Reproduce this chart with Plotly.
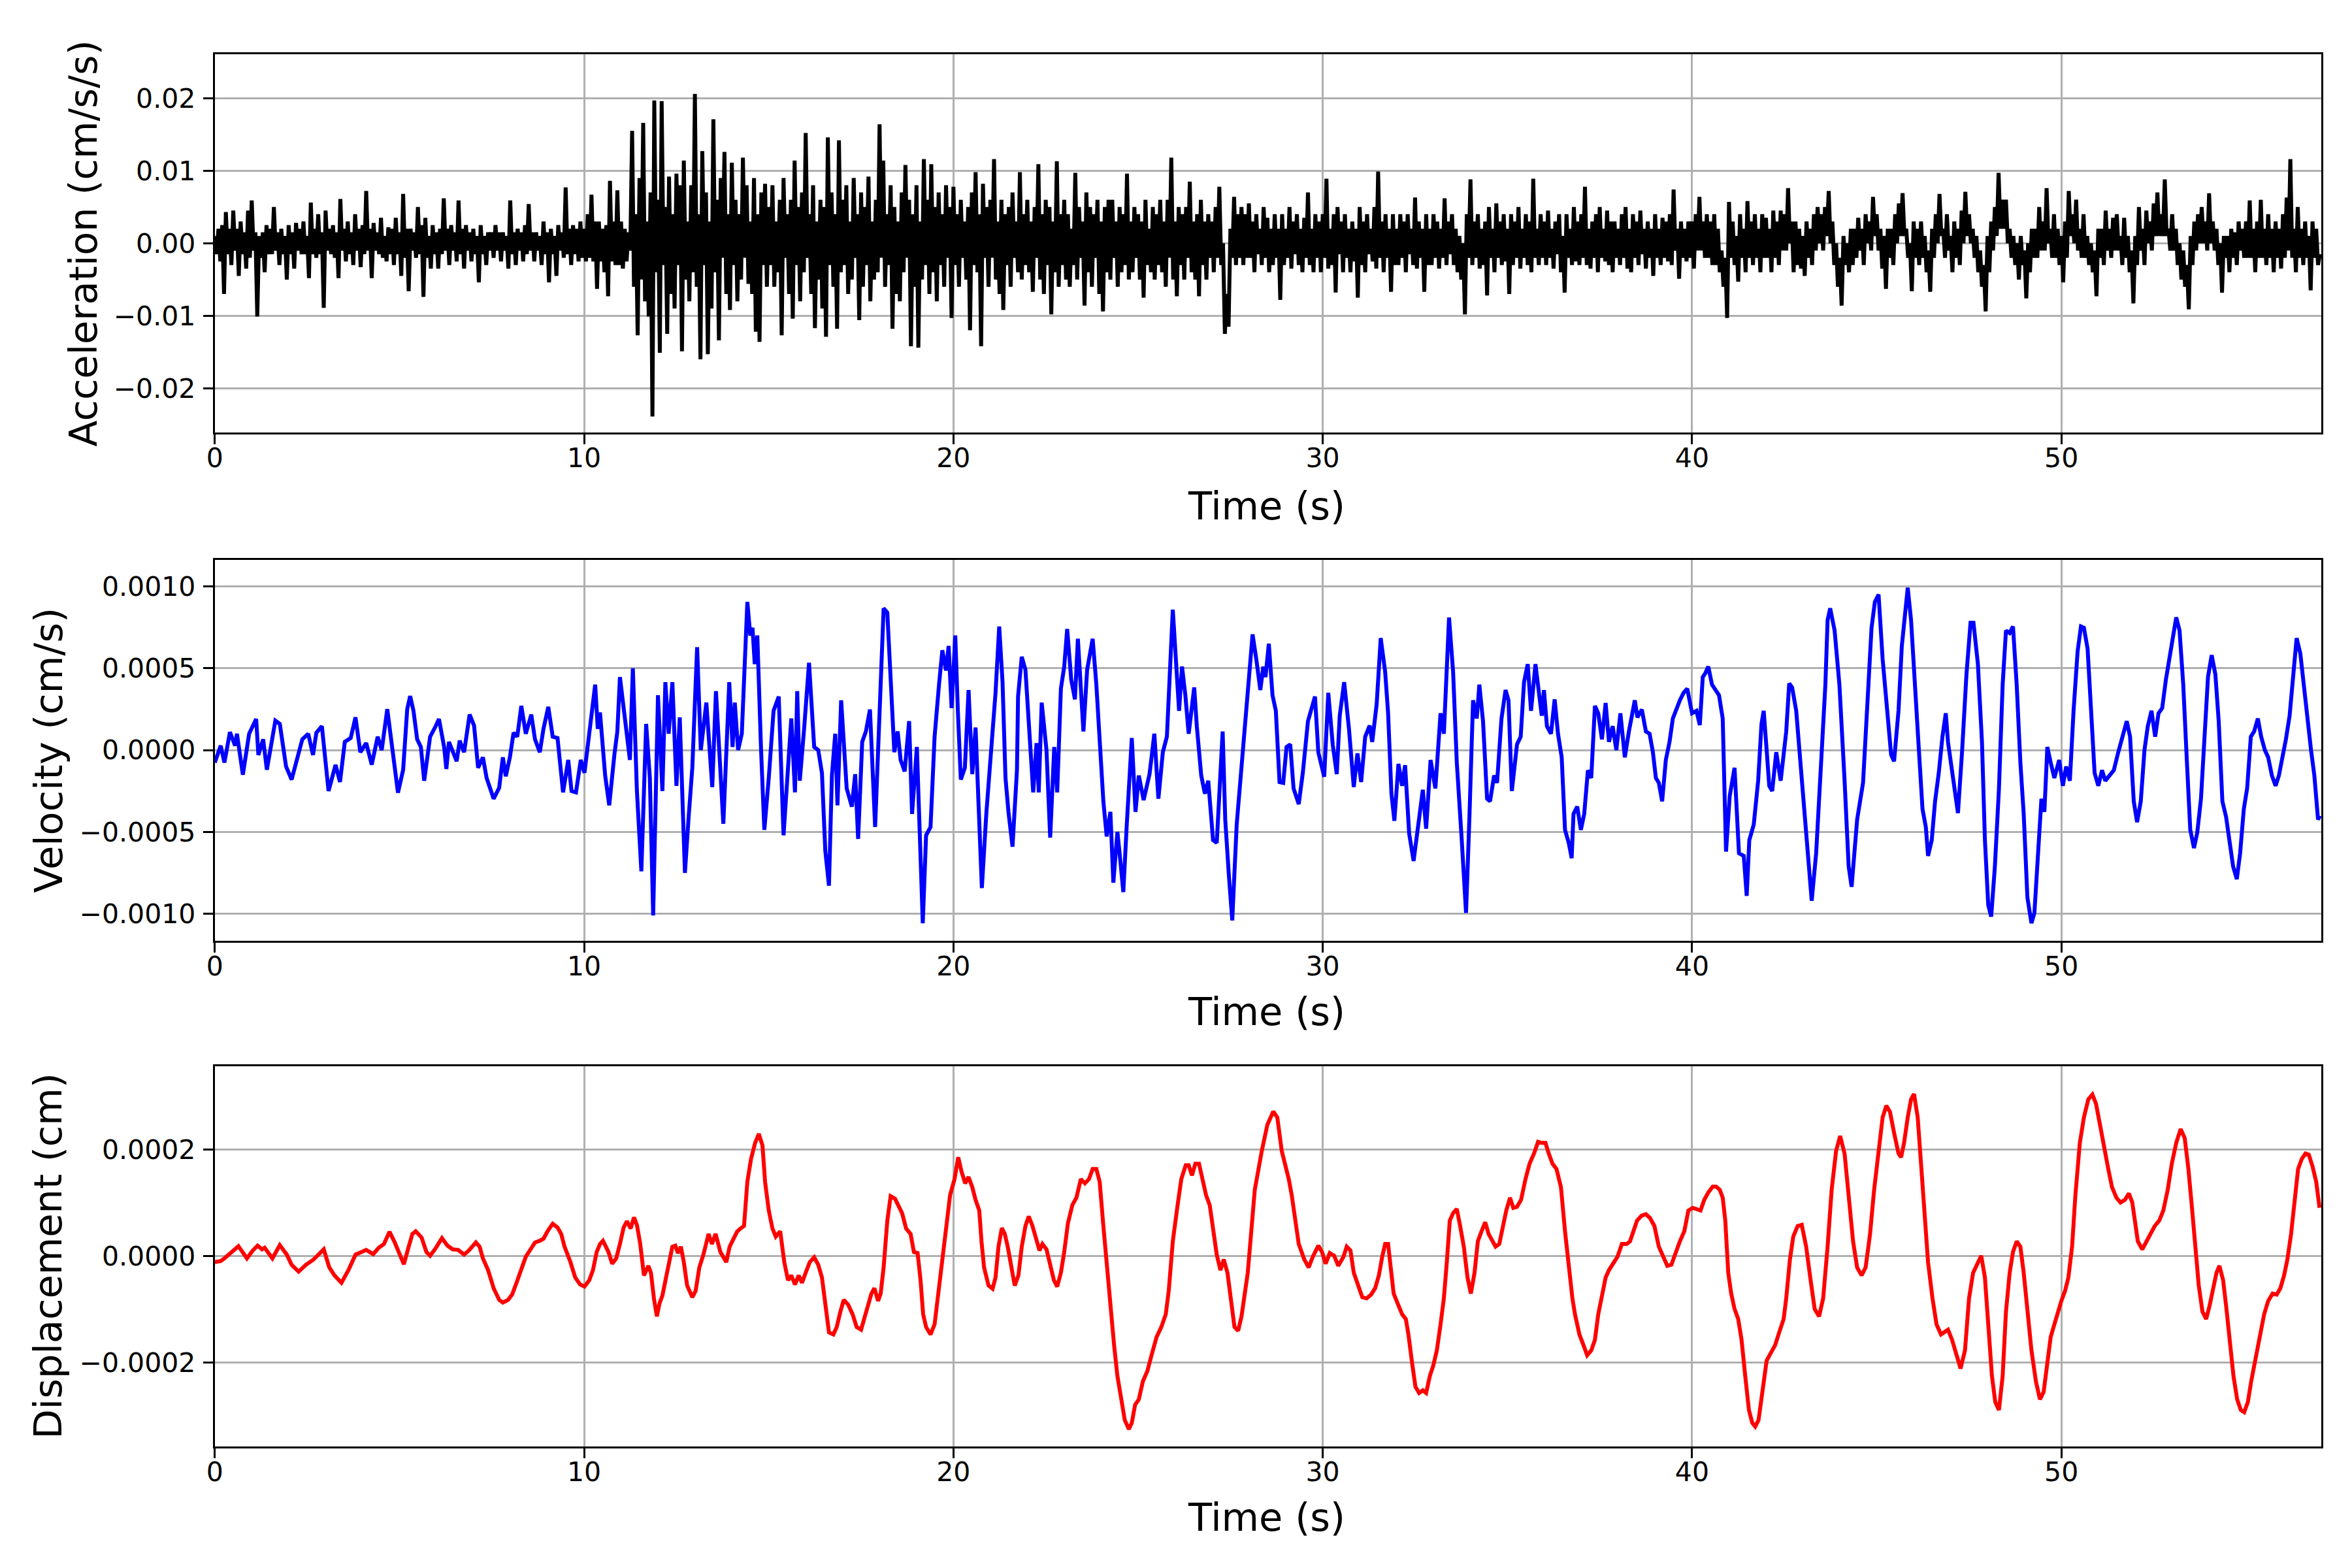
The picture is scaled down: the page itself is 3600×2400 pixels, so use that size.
import numpy as np
import plotly.graph_objects as go

# acceleration, one swing up and one swing down per 0.1 s window,
# read off the trace (units of 1e-3 cm/s/s), sample step 0.05 s
acc_dt = 0.05
acc_milli = [
    1.0, -1.5, 2.0, -2.5, 2.5, -7.0, 4.3, -1.5, 2.0, -3.0, 4.5, -1.0, 2.0, -4.5, 3.0, -1.5, 1.5, -3.5, 4.5, -2.0,
    5.9, -1.0, 1.5, -10.1, 1.0, -2.0, 1.5, -4.0, 2.5, -1.5, 2.0, -1.5, 5.0, -1.0, 1.5, -3.0, 2.0, -1.5, 1.0, -5.0,
    2.5, -1.5, 1.5, -3.5, 2.8, -1.0, 2.0, -1.5, 3.0, -1.5, 1.0, -4.8, 5.6, -1.5, 2.0, -2.0, 4.0, -1.5, 1.5, -8.9,
    4.5, -1.0, 2.0, -1.5, 2.5, -2.0, 1.5, -4.8, 6.1, -1.0, 2.0, -2.5, 3.0, -1.5, 1.5, -3.0, 4.0, -1.0, 2.0, -3.3,
    2.5, -1.5, 7.2, -1.0, 2.0, -4.8, 2.8, -1.0, 1.5, -1.5, 3.5, -2.0, 1.0, -2.5, 2.2, -1.5, 2.0, -3.0, 3.5, -1.5,
    1.5, -4.5, 6.8, -2.0, 2.0, -6.6, 2.0, -1.0, 1.5, -2.0, 5.0, -1.5, 2.5, -7.4, 3.5, -2.0, 1.0, -3.5, 2.5, -1.5,
    1.5, -3.5, 2.0, -1.5, 6.2, -1.0, 2.0, -3.0, 2.5, -1.0, 1.5, -2.5, 5.9, -1.5, 2.0, -3.5, 2.5, -1.0, 1.5, -2.5,
    2.0, -1.5, 1.0, -5.4, 2.5, -1.5, 1.0, -3.0, 1.5, -1.0, 1.5, -2.0, 2.5, -1.0, 1.5, -2.5, 1.5, -1.0, 1.0, -3.5,
    5.9, -1.5, 1.5, -3.0, 2.0, -1.0, 1.5, -2.5, 2.5, -1.5, 5.4, -1.0, 1.5, -2.5, 1.5, -1.0, 1.0, -3.0, 3.0, -1.5,
    1.5, -5.4, 2.0, -1.5, 1.0, -4.5, 2.5, -1.0, 1.5, -2.0, 7.7, -1.5, 2.0, -3.0, 2.5, -1.5, 2.0, -2.5, 3.0, -2.0,
    2.0, -2.5, 4.0, -2.0, 6.7, -2.5, 3.0, -6.3, 3.0, -2.5, 2.0, -4.0, 2.5, -7.3, 8.6, -2.5, 3.0, -3.0, 7.3, -3.0,
    3.0, -3.5, 2.0, -2.5, 1.5, -1.0, 15.5, -6.0, 4.0, -12.7, 9.0, -5.0, 16.6, -8.0, 3.0, -10.1, 7.0, -23.9, 19.7, -4.0,
    6.0, -15.1, 19.6, -3.0, 5.0, -12.5, 9.2, -7.0, 4.0, -9.0, 9.6, -3.0, 8.0, -14.9, 11.4, -5.0, 3.0, -8.0, 8.0, -4.0,
    20.6, -6.0, 4.0, -16.0, 12.7, -3.0, 7.0, -15.3, 3.0, -9.0, 17.1, -4.0, 6.0, -13.4, 9.0, -2.0, 12.6, -7.0, 4.0, -9.2,
    11.1, -3.0, 6.0, -8.0, 4.0, -5.0, 11.8, -2.0, 8.0, -5.6, 3.0, -7.0, 9.0, -12.2, 4.0, -13.6, 7.0, -3.0, 8.2, -6.0,
    5.0, -3.0, 8.0, -6.0, 3.0, -4.0, 6.0, -12.7, 9.0, -2.0, 4.0, -7.0, 6.0, -10.4, 11.4, -3.0, 5.0, -8.0, 7.0, -4.0,
    15.2, -2.0, 4.0, -7.0, 8.0, -11.7, 3.0, -5.0, 6.0, -9.0, 5.0, -12.9, 14.6, -3.0, 7.0, -6.0, 4.0, -11.8, 14.2, -4.0,
    6.0, -3.0, 8.0, -7.0, 3.0, -5.0, 9.0, -2.0, 4.0, -10.6, 7.0, -6.0, 5.0, -3.0, 9.2, -8.0, 3.0, -5.0, 6.0, -4.0,
    16.4, -2.0, 11.4, -6.0, 4.0, -3.0, 8.0, -11.8, 5.0, -7.0, 3.0, -8.0, 7.0, -4.0, 10.8, -2.0, 6.0, -14.2, 4.0, -6.0,
    8.0, -14.4, 3.0, -5.0, 11.6, -3.0, 6.0, -7.0, 10.9, -4.0, 5.0, -8.0, 7.0, -3.0, 4.0, -6.0, 8.0, -2.0, 5.0, -10.3,
    7.8, -3.0, 4.0, -6.0, 6.0, -2.0, 3.0, -5.0, 5.0, -12.0, 7.0, -3.0, 9.8, -4.0, 4.0, -14.2, 8.2, -2.0, 5.0, -6.0,
    6.0, -2.0, 11.6, -5.0, 3.0, -7.0, 6.0, -9.2, 4.0, -3.0, 5.0, -6.0, 7.0, -2.0, 3.0, -4.0, 9.8, -5.0, 4.0, -3.0,
    6.0, -4.0, 3.0, -6.7, 5.0, -2.0, 10.9, -5.0, 4.0, -7.0, 6.0, -3.0, 5.0, -9.8, 3.0, -4.0, 11.3, -6.0, 4.0, -3.0,
    6.0, -5.0, 4.0, -6.0, 2.0, -3.0, 9.7, -5.0, 5.0, -2.0, 3.0, -8.6, 7.0, -4.0, 5.0, -6.0, 4.0, -2.0, 6.0, -7.0,
    3.0, -9.4, 5.0, -4.0, 6.0, -5.0, 6.0, -2.0, 3.0, -6.0, 5.0, -4.0, 4.0, -3.0, 9.6, -5.0, 3.0, -4.0, 5.0, -2.0,
    4.0, -5.0, 3.0, -7.5, 6.0, -3.0, 2.0, -4.0, 5.0, -5.0, 4.0, -3.0, 6.0, -4.0, 3.0, -6.0, 6.0, -2.0, 11.8, -5.0,
    3.0, -7.3, 5.0, -3.0, 4.0, -5.0, 5.0, -2.0, 8.5, -4.0, 3.0, -5.0, 4.0, -7.3, 6.0, -3.0, 3.0, -5.0, 4.0, -2.0,
    3.0, -4.0, 5.0, -2.0, 7.8, -3.0, 0.0, -12.5, -7.0, -11.5, 2.0, -2.0, 6.4, -3.0, 4.0, -2.0, 5.0, -3.0, 4.0, -2.0,
    5.5, -2.0, 3.0, -4.0, 4.0, -1.5, 2.0, -3.0, 5.0, -2.0, 3.5, -4.0, 2.0, -3.0, 4.0, -2.0, 2.0, -7.8, 4.0, -3.0,
    2.0, -2.0, 5.0, -3.5, 3.0, -1.5, 4.0, -3.0, 2.0, -4.0, 3.5, -2.0, 7.0, -3.0, 2.0, -4.0, 4.0, -2.0, 3.0, -4.0,
    4.0, -2.0, 8.9, -3.5, 2.0, -3.0, 4.0, -6.8, 5.0, -1.5, 3.0, -4.0, 4.0, -2.0, 2.0, -4.0, 3.0, -2.5, 2.0, -7.5,
    5.0, -3.0, 3.0, -4.0, 4.0, -1.5, 2.0, -2.5, 5.0, -3.5, 9.9, -2.0, 3.0, -4.0, 4.0, -2.0, 2.0, -6.7, 4.0, -3.0,
    2.0, -3.0, 4.0, -2.0, 3.0, -4.0, 4.0, -1.5, 2.0, -3.0, 6.3, -3.5, 3.0, -2.0, 2.0, -6.7, 4.0, -3.0, 2.0, -3.0,
    4.0, -2.0, 3.0, -3.5, 2.0, -2.0, 6.2, -3.0, 3.0, -1.5, 4.0, -3.0, 2.0, -4.0, 1.0, -5.0, 0.0, -9.8, 4.0, -2.0,
    8.8, -3.0, 3.0, -2.0, 4.0, -3.5, 2.0, -3.0, 3.0, -7.2, 5.0, -2.0, 2.0, -4.0, 5.5, -2.0, 3.0, -3.0, 4.0, -2.5,
    2.0, -7.0, 4.0, -3.0, 3.0, -2.0, 5.0, -3.5, 2.0, -2.0, 4.0, -3.0, 3.0, -4.0, 8.9, -2.0, 2.0, -3.0, 4.0, -2.0,
    3.0, -3.0, 4.5, -2.0, 2.0, -3.5, 3.0, -1.5, 4.0, -4.0, 1.0, -6.8, 4.0, -2.0, 2.0, -3.0, 5.0, -2.5, 3.0, -3.0,
    4.0, -2.0, 7.8, -3.0, 2.0, -3.5, 3.0, -2.0, 4.0, -4.0, 5.0, -2.0, 2.0, -2.5, 4.5, -3.0, 3.0, -4.0, 3.0, -2.0,
    2.0, -3.0, 4.0, -2.0, 5.0, -3.5, 2.0, -4.0, 4.0, -2.0, 3.0, -3.0, 4.5, -1.5, 2.0, -3.5, 3.0, -2.0, 2.0, -4.5,
    4.0, -2.0, 2.0, -3.0, 3.5, -2.0, 3.0, -2.5, 4.0, -3.0, 7.4, -1.0, 2.0, -4.9, 3.0, -2.0, 2.0, -2.5, 3.0, -2.0,
    3.0, -3.5, 4.0, -1.0, 6.4, -1.0, 3.0, -2.0, 4.0, -2.0, 3.0, -3.0, 4.0, -3.0, 2.0, -4.0, -1.0, -6.0, -2.0, -10.3,
    5.7, -2.0, 3.0, -3.0, 1.0, -5.3, 4.0, -2.0, 2.0, -4.0, 5.8, -2.0, 3.0, -3.0, 4.0, -2.0, 2.0, -4.0, 4.0, -2.0,
    3.5, -2.0, 2.0, -4.0, 4.5, -2.0, 3.0, -3.0, 4.5, -1.0, 4.0, -1.0, 7.6, 0.0, 3.0, -4.0, 3.0, -3.0, 2.0, -3.5,
    1.0, -4.5, 3.0, -2.0, 2.0, -3.0, 4.0, -1.0, 5.0, 0.0, 4.0, -1.0, 5.0, 1.0, 7.2, 0.0, 3.0, -3.0, 0.0, -6.0,
    -2.0, -8.6, 1.0, -3.0, 0.0, -4.0, 2.0, -3.0, 2.0, -2.0, 3.5, -1.0, 2.0, -3.0, 4.0, 0.0, 3.0, -1.0, 6.4, 1.0,
    4.0, -1.0, 2.0, -3.5, 1.0, -6.3, 2.0, -2.0, 2.0, -3.0, 4.0, 0.0, 5.5, 1.0, 6.9, 1.0, 2.0, -2.0, 0.0, -6.6,
    3.0, -2.0, 2.0, -3.0, 3.0, -2.0, 1.0, -4.0, -1.0, -6.7, 2.0, -2.0, 4.0, 0.0, 6.8, 1.0, 2.0, -2.0, 4.0, -1.0,
    1.0, -4.0, 3.0, -2.0, 2.0, -3.0, 4.5, 0.0, 7.1, 1.0, 4.0, 0.0, 2.0, -2.0, 1.0, -4.0, -1.0, -6.0, -3.0, -9.4,
    1.0, -4.0, 3.0, -1.0, 5.0, 1.0, 9.7, 2.0, 6.0, 2.0, 6.0, 0.0, 2.0, -2.0, 1.0, -3.0, 0.0, -5.0, 1.0, -3.0,
    -1.0, -7.6, 0.0, -4.0, 2.0, -2.0, 2.0, -2.0, 5.0, -1.0, 3.0, -1.0, 7.6, 0.0, 2.0, -2.0, 4.0, -2.0, 2.0, -3.0,
    1.0, -5.4, 3.0, -2.0, 7.2, 1.0, 4.0, 0.0, 6.0, -1.0, 2.0, -2.0, 4.0, -2.0, 1.0, -3.0, 0.0, -4.0, -1.0, -7.3,
    2.0, -2.0, 2.0, -3.0, 4.5, -1.0, 2.0, -2.0, 3.5, -1.0, 4.0, -1.0, 1.0, -3.0, 3.5, -2.0, 1.0, -4.0, -1.0, -8.3,
    1.0, -3.0, 5.0, -1.0, 2.0, -3.0, 4.5, 0.0, 3.0, -1.0, 5.5, 1.0, 7.0, 1.0, 4.0, 1.0, 8.8, 1.0, 2.0, -1.0,
    4.0, -1.0, 2.0, -3.0, 0.0, -5.0, -1.0, -6.0, -3.0, -9.1, 1.0, -3.0, 3.0, -1.0, 4.0, 0.0, 5.0, 0.0, 3.0, -1.0,
    6.9, 0.0, 3.0, -1.0, 2.0, -3.0, 0.0, -6.8, 1.0, -2.0, 1.0, -4.0, 2.0, -2.0, 1.5, -3.0, 3.0, -1.0, 2.0, -2.0,
    3.0, -2.0, 5.9, -2.0, 2.0, -4.0, 3.0, -2.0, 6.0, -2.0, 2.0, -3.0, 4.0, -2.0, 2.0, -4.0, 3.0, -2.0, 2.0, -3.5,
    4.0, -2.0, 6.3, -1.0, 11.6, -2.0, 2.0, -4.0, 5.0, -2.0, 2.0, -3.0, 3.0, -2.0, 1.0, -6.5, 3.0, -2.0, 2.0, -3.0,
    -1.5,
]

# velocity turning points (s, units of 1e-4 cm/s)
vel_points = [
    (0.0, -0.76), (0.16, 0.27), (0.26, -0.76), (0.41, 1.1), (0.55, 0.27), (0.6, 1.0),
    (0.76, -1.5), (0.93, 1.0), (1.12, 1.9), (1.18, -0.3), (1.31, 0.66), (1.41, -1.2),
    (1.64, 1.8), (1.76, 1.6), (1.93, -1.0), (2.08, -1.8), (2.37, 0.66), (2.53, 1.0),
    (2.66, -0.3), (2.75, 1.06), (2.9, 1.46), (3.08, -2.5), (3.27, -0.9), (3.39, -1.95),
    (3.52, 0.5), (3.68, 0.74), (3.81, 2.0), (3.94, -0.13), (4.1, 0.43), (4.25, -0.89),
    (4.41, 0.82), (4.52, 0.0), (4.67, 2.5), (4.79, 0.5), (4.96, -2.6), (5.1, -1.2),
    (5.21, 2.5), (5.29, 3.3), (5.38, 2.4), (5.48, 0.66), (5.58, 0.19), (5.67, -1.87),
    (5.83, 0.82), (5.98, 1.46), (6.07, 1.9), (6.21, 0.19), (6.27, -1.15), (6.34, 0.5),
    (6.46, -0.13), (6.55, -0.68), (6.63, 0.58), (6.75, -0.13), (6.9, 2.17), (7.02, 1.5),
    (7.13, -1.08), (7.26, -0.44), (7.36, -1.7), (7.55, -2.97), (7.7, -2.3), (7.8, -0.44),
    (7.88, -1.6), (7.99, -0.44), (8.09, 1.06), (8.19, 0.82), (8.3, 2.7), (8.42, 1.0),
    (8.57, 2.17), (8.67, 0.66), (8.8, -0.13), (8.9, 1.3), (9.03, 2.64), (9.15, 0.82),
    (9.28, 0.74), (9.43, -2.58), (9.57, -0.6), (9.66, -2.5), (9.78, -2.58), (9.91, -0.6),
    (10.01, -1.39), (10.14, 1.2), (10.3, 4.0), (10.37, 1.3), (10.43, 2.3), (10.57, -1.55),
    (10.68, -3.37), (10.82, -0.28), (10.9, 1.14), (10.97, 4.46), (11.09, 2.4), (11.24, -0.6),
    (11.32, 5.0), (11.43, -2.5), (11.55, -7.4), (11.68, 1.6), (11.78, -1.7), (11.87, -10.1),
    (12.0, 3.35), (12.12, -2.5), (12.2, 4.15), (12.29, 1.0), (12.39, 4.15), (12.5, -2.18),
    (12.59, 2.0), (12.73, -7.5), (12.83, -4.1), (12.93, -1.08), (13.06, 6.28), (13.16, 0.0),
    (13.31, 2.9), (13.47, -2.26), (13.57, 3.6), (13.66, -0.5), (13.77, -4.5), (13.93, 4.15),
    (14.02, 0.19), (14.08, 2.9), (14.17, 0.0), (14.27, 1.0), (14.42, 9.05), (14.5, 7.0),
    (14.56, 7.47), (14.62, 5.25), (14.69, 7.0), (14.79, 0.1), (14.88, -4.87), (15.0, -1.7),
    (15.13, 2.4), (15.27, 3.27), (15.4, -5.2), (15.61, 1.93), (15.71, -2.58), (15.77, 3.6),
    (15.84, -1.87), (15.96, 1.38), (16.09, 5.33), (16.23, 0.19), (16.34, 0.0), (16.44, -1.4),
    (16.53, -6.14), (16.63, -8.28), (16.71, -1.55), (16.8, 1.0), (16.86, -3.37), (16.96, 3.04),
    (17.11, -2.34), (17.25, -3.45), (17.34, -1.47), (17.42, -5.43), (17.53, 0.5), (17.63, 1.14),
    (17.74, 2.48), (17.88, -4.7), (18.02, 2.7), (18.11, 8.66), (18.21, 8.4), (18.3, 4.0),
    (18.4, -0.13), (18.49, 1.14), (18.57, -0.6), (18.68, -1.3), (18.8, 1.77), (18.88, -3.9),
    (19.01, 0.19), (19.17, -10.57), (19.26, -5.2), (19.38, -4.7), (19.49, 0.82), (19.61, 4.0),
    (19.7, 6.1), (19.8, 4.86), (19.87, 6.36), (19.95, 2.56), (20.05, 7.0), (20.12, 2.4),
    (20.2, -1.8), (20.31, -1.08), (20.41, 3.67), (20.51, -1.47), (20.6, 1.38), (20.68, -3.29),
    (20.77, -8.43), (20.89, -3.9), (20.99, -1.08), (21.14, 3.5), (21.24, 7.55), (21.33, 4.15),
    (21.41, -1.7), (21.49, -3.77), (21.6, -5.9), (21.72, -1.23), (21.75, 3.27), (21.85, 5.7),
    (21.95, 4.9), (22.06, 0.82), (22.16, -2.58), (22.25, 0.43), (22.31, -2.58), (22.39, 2.9),
    (22.52, 0.0), (22.62, -5.35), (22.73, 0.19), (22.81, -2.58), (22.91, 3.75), (23.0, 5.1),
    (23.08, 7.4), (23.19, 4.3), (23.29, 3.1), (23.37, 6.8), (23.44, 4.0), (23.52, 1.14),
    (23.62, 4.9), (23.77, 6.8), (23.87, 4.0), (23.96, 0.82), (24.06, -3.13), (24.15, -5.27),
    (24.25, -3.77), (24.33, -8.1), (24.44, -5.0), (24.5, -6.3), (24.6, -8.67), (24.69, -4.7),
    (24.83, 0.74), (24.93, -3.77), (25.02, -1.55), (25.15, -3.05), (25.31, -1.47), (25.44, 1.0),
    (25.55, -2.97), (25.67, -0.13), (25.78, 0.82), (25.94, 8.58), (26.03, 5.25), (26.11, 2.4),
    (26.19, 5.1), (26.28, 3.35), (26.37, 1.0), (26.52, 3.83), (26.59, 1.46), (26.71, -1.55),
    (26.81, -2.66), (26.9, -1.87), (27.03, -5.5), (27.13, -5.66), (27.29, 1.14), (27.36, -4.24),
    (27.46, -7.7), (27.55, -10.4), (27.67, -4.55), (27.87, 1.0), (27.97, 3.67), (28.1, 7.07),
    (28.2, 5.57), (28.31, 3.67), (28.39, 5.1), (28.45, 4.46), (28.54, 6.5), (28.64, 3.35),
    (28.73, 2.4), (28.83, -1.95), (28.93, -2.0), (29.02, 0.19), (29.12, 0.35), (29.21, -2.34),
    (29.35, -3.3), (29.46, -1.4), (29.6, 1.77), (29.79, 3.27), (29.88, -0.13), (30.04, -1.63),
    (30.15, 3.5), (30.27, 0.35), (30.38, -1.47), (30.46, 2.1), (30.58, 4.15), (30.71, 1.3),
    (30.84, -2.26), (30.94, -0.2), (31.04, -1.95), (31.15, 0.82), (31.27, 1.5), (31.34, 0.5),
    (31.46, 2.8), (31.57, 6.84), (31.69, 4.78), (31.77, 2.25), (31.86, -2.66), (31.94, -4.32),
    (32.05, -0.84), (32.15, -2.18), (32.23, -0.92), (32.34, -5.1), (32.46, -6.77), (32.57, -4.87),
    (32.71, -2.42), (32.8, -4.8), (32.92, -0.6), (33.05, -2.34), (33.19, 2.25), (33.28, 1.0),
    (33.42, 8.1), (33.53, 4.78), (33.63, -0.76), (33.76, -5.35), (33.88, -9.94), (33.97, -4.24),
    (34.07, 3.04), (34.17, 1.93), (34.24, 4.0), (34.34, 1.77), (34.45, -2.97), (34.53, -3.13),
    (34.64, -1.55), (34.72, -2.0), (34.84, 1.93), (34.95, 3.67), (35.03, 3.04), (35.12, -2.5),
    (35.26, 0.35), (35.36, 0.82), (35.45, 4.15), (35.55, 5.25), (35.64, 2.4), (35.76, 5.25),
    (35.84, 3.67), (35.93, 2.1), (35.99, 3.67), (36.07, 1.46), (36.18, 1.0), (36.28, 3.1),
    (36.37, 1.0), (36.47, -0.44), (36.56, -4.87), (36.66, -5.66), (36.74, -6.6), (36.79, -3.9),
    (36.89, -3.45), (36.99, -4.87), (37.08, -3.9), (37.18, -1.23), (37.27, -1.7), (37.37, 2.7),
    (37.46, 2.25), (37.56, 0.66), (37.66, 2.88), (37.75, 0.5), (37.85, 1.46), (37.95, 0.0),
    (38.06, 2.25), (38.18, -0.44), (38.29, 1.14), (38.45, 3.04), (38.52, 2.0), (38.64, 2.48),
    (38.75, 1.14), (38.85, 1.0), (38.94, -0.13), (39.02, -1.7), (39.1, -2.0), (39.19, -3.13),
    (39.29, -0.6), (39.39, 0.5), (39.48, 1.93), (39.58, 2.56), (39.67, 3.04), (39.77, 3.5),
    (39.87, 3.75), (40.0, 2.25), (40.12, 2.4), (40.21, 1.53), (40.29, 4.46), (40.36, 4.7),
    (40.44, 5.1), (40.54, 4.0), (40.63, 3.67), (40.73, 3.35), (40.83, 1.93), (40.92, -6.2),
    (41.02, -2.8), (41.15, -1.08), (41.27, -6.3), (41.4, -6.46), (41.48, -8.9), (41.55, -5.5),
    (41.67, -4.55), (41.79, -1.87), (41.88, 1.6), (41.94, 2.4), (42.02, 0.0), (42.09, -2.18),
    (42.17, -2.5), (42.28, -0.13), (42.4, -1.87), (42.48, -0.44), (42.55, 1.14), (42.63, 4.07),
    (42.71, 3.83), (42.82, 2.4), (42.92, -0.28), (43.03, -3.9), (43.13, -6.3), (43.24, -9.2),
    (43.36, -6.3), (43.47, -1.4), (43.61, 4.0), (43.67, 7.94), (43.74, 8.66), (43.86, 7.3),
    (43.99, 4.0), (44.13, -1.87), (44.24, -7.1), (44.32, -8.35), (44.47, -4.24), (44.63, -2.0),
    (44.74, 2.4), (44.86, 7.47), (44.95, 9.05), (45.05, 9.5), (45.16, 5.57), (45.3, 2.1),
    (45.39, -0.28), (45.47, -0.68), (45.59, 2.4), (45.68, 6.36), (45.76, 8.26), (45.84, 9.92),
    (45.93, 7.94), (46.01, 4.62), (46.12, 0.82), (46.24, -3.6), (46.33, -4.7), (46.39, -6.46),
    (46.49, -5.5), (46.58, -3.13), (46.68, -1.4), (46.78, 0.82), (46.87, 2.25), (46.93, 0.5),
    (47.06, -1.55), (47.2, -3.85), (47.31, -0.13), (47.43, 4.62), (47.54, 7.78), (47.62, 7.78),
    (47.74, 5.25), (47.85, 0.5), (47.93, -5.5), (48.02, -9.46), (48.1, -10.17), (48.2, -7.1),
    (48.31, -2.34), (48.41, 4.0), (48.5, 7.3), (48.6, 7.15), (48.69, 7.55), (48.79, 4.0),
    (48.89, -0.76), (48.98, -3.9), (49.08, -9.0), (49.19, -10.57), (49.27, -9.94), (49.37, -6.3),
    (49.46, -2.97), (49.54, -3.77), (49.62, 0.19), (49.71, -0.76), (49.81, -1.7), (49.94, -0.6),
    (50.04, -2.18), (50.13, -1.0), (50.23, -1.87), (50.33, 2.4), (50.44, 6.04), (50.53, 7.55),
    (50.61, 7.47), (50.71, 6.2), (50.81, 2.1), (50.9, -1.4), (51.0, -2.18), (51.1, -1.23),
    (51.19, -1.87), (51.29, -1.55), (51.42, -1.23), (51.54, -0.13), (51.65, 0.82), (51.77, 1.77),
    (51.86, 0.82), (51.96, -3.13), (52.05, -4.4), (52.15, -3.13), (52.25, 0.0), (52.34, 1.46),
    (52.44, 2.4), (52.54, 0.82), (52.63, 2.25), (52.73, 2.56), (52.83, 4.3), (52.92, 5.57),
    (53.01, 6.84), (53.11, 8.1), (53.2, 7.3), (53.3, 4.0), (53.4, -0.76), (53.49, -4.87),
    (53.59, -5.98), (53.68, -5.03), (53.78, -2.97), (53.88, 0.82), (53.97, 4.46), (54.07, 5.8),
    (54.17, 4.62), (54.26, 1.77), (54.36, -3.13), (54.46, -4.08), (54.55, -5.35), (54.65, -7.1),
    (54.75, -7.88), (54.84, -6.3), (54.94, -3.6), (55.03, -2.34), (55.13, 0.82), (55.22, 1.14),
    (55.32, 1.93), (55.41, 0.82), (55.51, 0.0), (55.6, -0.44), (55.7, -1.55), (55.8, -2.18),
    (55.89, -1.55), (55.99, -0.44), (56.08, 0.66), (56.18, 2.1), (56.27, 4.46), (56.37, 6.84),
    (56.47, 5.9), (56.56, 4.0), (56.66, 1.6), (56.76, 0.0), (56.85, -1.55), (56.95, -4.24),
    (57.0, -4.0),
]

# displacement turning points (s, units of 1e-4 cm)
disp_points = [
    (0.0, -0.11), (0.16, -0.09), (0.26, -0.04), (0.45, 0.08), (0.64, 0.19), (0.87, -0.04),
    (1.03, 0.11), (1.16, 0.2), (1.28, 0.13), (1.35, 0.16), (1.56, -0.04), (1.76, 0.21),
    (1.95, 0.03), (2.08, -0.16), (2.27, -0.29), (2.47, -0.16), (2.66, -0.07), (2.85, 0.06),
    (2.95, 0.13), (3.1, -0.21), (3.24, -0.36), (3.43, -0.5), (3.62, -0.26), (3.81, 0.03),
    (4.1, 0.12), (4.29, 0.04), (4.44, 0.16), (4.58, 0.23), (4.73, 0.46), (4.86, 0.28),
    (5.02, -0.01), (5.12, -0.15), (5.25, 0.18), (5.35, 0.42), (5.44, 0.47), (5.6, 0.35),
    (5.73, 0.08), (5.83, 0.01), (5.96, 0.13), (6.15, 0.34), (6.3, 0.2), (6.44, 0.13),
    (6.59, 0.12), (6.75, 0.03), (6.88, 0.11), (7.07, 0.26), (7.17, 0.18), (7.26, -0.04),
    (7.4, -0.26), (7.55, -0.6), (7.7, -0.82), (7.8, -0.87), (7.94, -0.82), (8.05, -0.72),
    (8.17, -0.5), (8.28, -0.26), (8.42, -0.01), (8.55, 0.13), (8.67, 0.26), (8.8, 0.29),
    (8.9, 0.33), (9.01, 0.47), (9.15, 0.61), (9.28, 0.54), (9.38, 0.42), (9.47, 0.18),
    (9.63, -0.11), (9.76, -0.4), (9.89, -0.53), (10.01, -0.57), (10.14, -0.45), (10.24, -0.26),
    (10.34, 0.08), (10.43, 0.23), (10.51, 0.29), (10.59, 0.18), (10.66, 0.08), (10.76, -0.14),
    (10.87, -0.04), (10.97, 0.23), (11.07, 0.54), (11.16, 0.66), (11.26, 0.52), (11.35, 0.73),
    (11.43, 0.59), (11.52, 0.23), (11.62, -0.36), (11.74, -0.18), (11.81, -0.31), (11.89, -0.79),
    (11.97, -1.13), (12.04, -0.89), (12.12, -0.74), (12.23, -0.36), (12.31, -0.06), (12.39, 0.18),
    (12.47, 0.2), (12.54, 0.06), (12.62, 0.18), (12.7, -0.11), (12.79, -0.55), (12.93, -0.77),
    (13.02, -0.65), (13.12, -0.21), (13.23, 0.03), (13.37, 0.42), (13.46, 0.23), (13.56, 0.42),
    (13.69, 0.08), (13.85, -0.11), (13.94, 0.18), (14.04, 0.33), (14.14, 0.46), (14.23, 0.52),
    (14.33, 0.57), (14.42, 1.4), (14.52, 1.83), (14.63, 2.13), (14.73, 2.3), (14.83, 2.08),
    (14.9, 1.4), (15.0, 0.86), (15.1, 0.52), (15.19, 0.37), (15.31, 0.47), (15.42, -0.11),
    (15.52, -0.45), (15.61, -0.36), (15.71, -0.53), (15.81, -0.36), (15.9, -0.5), (16.0, -0.31),
    (16.11, -0.11), (16.23, -0.02), (16.34, -0.16), (16.44, -0.4), (16.54, -0.89), (16.63, -1.43),
    (16.75, -1.47), (16.84, -1.33), (16.94, -1.04), (17.03, -0.82), (17.15, -0.91), (17.27, -1.09),
    (17.38, -1.33), (17.5, -1.38), (17.59, -1.16), (17.69, -0.89), (17.78, -0.7), (17.86, -0.6),
    (17.96, -0.84), (18.03, -0.7), (18.11, -0.21), (18.21, 0.67), (18.3, 1.13), (18.42, 1.08),
    (18.49, 0.98), (18.61, 0.81), (18.72, 0.52), (18.84, 0.42), (18.93, 0.08), (19.03, 0.06),
    (19.11, -0.45), (19.18, -1.09), (19.26, -1.33), (19.38, -1.47), (19.49, -1.28), (19.59, -0.7),
    (19.68, -0.06), (19.8, 0.57), (19.91, 1.15), (20.03, 1.45), (20.13, 1.86), (20.22, 1.59),
    (20.32, 1.37), (20.41, 1.49), (20.51, 1.3), (20.6, 1.06), (20.7, 0.86), (20.76, 0.28),
    (20.83, -0.21), (20.95, -0.55), (21.06, -0.61), (21.14, -0.4), (21.22, 0.18), (21.31, 0.53),
    (21.39, 0.42), (21.47, 0.18), (21.56, -0.21), (21.66, -0.55), (21.76, -0.36), (21.85, 0.18),
    (21.95, 0.57), (22.04, 0.75), (22.14, 0.57), (22.24, 0.33), (22.33, 0.11), (22.41, 0.23),
    (22.52, 0.13), (22.62, -0.16), (22.72, -0.45), (22.81, -0.57), (22.91, -0.31), (23.0, 0.08),
    (23.1, 0.62), (23.22, 0.96), (23.33, 1.1), (23.45, 1.45), (23.56, 1.37), (23.67, 1.45),
    (23.77, 1.64), (23.87, 1.64), (23.96, 1.4), (24.06, 0.57), (24.16, -0.21), (24.25, -1.04),
    (24.35, -1.67), (24.44, -2.25), (24.54, -2.69), (24.64, -3.08), (24.75, -3.25), (24.83, -3.13),
    (24.92, -2.79), (25.02, -2.69), (25.13, -2.35), (25.25, -2.16), (25.36, -1.87), (25.5, -1.52),
    (25.63, -1.33), (25.75, -1.09), (25.83, -0.65), (25.94, 0.28), (26.06, 0.91), (26.17, 1.45),
    (26.29, 1.71), (26.37, 1.71), (26.46, 1.52), (26.55, 1.74), (26.65, 1.74), (26.74, 1.45),
    (26.84, 1.15), (26.94, 0.96), (27.03, 0.47), (27.13, 0.03), (27.23, -0.26), (27.32, -0.06),
    (27.42, -0.31), (27.51, -0.79), (27.61, -1.33), (27.71, -1.4), (27.8, -1.13), (27.97, -0.31),
    (28.16, 1.25), (28.35, 1.98), (28.5, 2.47), (28.66, 2.72), (28.77, 2.61), (28.89, 1.98),
    (28.98, 1.74), (29.08, 1.45), (29.16, 1.15), (29.25, 0.67), (29.35, 0.23), (29.5, -0.06),
    (29.62, -0.21), (29.73, -0.01), (29.88, 0.2), (29.98, 0.08), (30.08, -0.14), (30.19, 0.06),
    (30.31, 0.01), (30.42, -0.18), (30.56, -0.01), (30.65, 0.18), (30.75, 0.11), (30.84, -0.31),
    (30.96, -0.55), (31.07, -0.77), (31.19, -0.79), (31.31, -0.72), (31.42, -0.6), (31.52, -0.36),
    (31.61, -0.01), (31.69, 0.23), (31.77, 0.23), (31.84, -0.21), (31.92, -0.7), (32.03, -0.89),
    (32.15, -1.09), (32.25, -1.18), (32.32, -1.47), (32.42, -2.01), (32.51, -2.45), (32.61, -2.57),
    (32.71, -2.52), (32.8, -2.57), (32.9, -2.25), (32.99, -2.06), (33.09, -1.77), (33.19, -1.28),
    (33.28, -0.79), (33.36, -0.11), (33.44, 0.67), (33.53, 0.81), (33.63, 0.89), (33.72, 0.57),
    (33.82, 0.18), (33.92, -0.4), (34.01, -0.7), (34.11, -0.31), (34.2, 0.28), (34.3, 0.47),
    (34.4, 0.64), (34.49, 0.42), (34.59, 0.28), (34.68, 0.18), (34.78, 0.23), (34.88, 0.57),
    (34.97, 0.86), (35.07, 1.1), (35.16, 0.91), (35.26, 0.93), (35.37, 1.06), (35.49, 1.45),
    (35.6, 1.74), (35.72, 1.93), (35.83, 2.15), (35.93, 2.13), (36.03, 2.13), (36.12, 1.93),
    (36.22, 1.74), (36.33, 1.64), (36.45, 1.3), (36.56, 0.47), (36.66, -0.21), (36.76, -0.79),
    (36.83, -1.09), (36.95, -1.47), (37.06, -1.67), (37.16, -1.86), (37.27, -1.77), (37.37, -1.57),
    (37.46, -1.09), (37.56, -0.7), (37.66, -0.4), (37.75, -0.26), (37.87, -0.11), (37.98, -0.01),
    (38.1, 0.23), (38.23, 0.23), (38.32, 0.28), (38.42, 0.52), (38.51, 0.67), (38.63, 0.76),
    (38.75, 0.79), (38.86, 0.72), (38.98, 0.57), (39.1, 0.18), (39.21, -0.01), (39.33, -0.18),
    (39.44, -0.16), (39.56, 0.08), (39.67, 0.28), (39.79, 0.47), (39.9, 0.86), (40.02, 0.91),
    (40.13, 0.89), (40.23, 0.86), (40.33, 1.06), (40.44, 1.2), (40.56, 1.31), (40.65, 1.31),
    (40.75, 1.25), (40.83, 1.1), (40.9, 0.67), (40.98, -0.31), (41.06, -0.7), (41.15, -0.99),
    (41.25, -1.18), (41.34, -1.57), (41.44, -2.25), (41.54, -2.89), (41.63, -3.13), (41.71, -3.2),
    (41.8, -3.08), (41.9, -2.59), (42.02, -1.96), (42.13, -1.82), (42.25, -1.67), (42.36, -1.43),
    (42.48, -1.18), (42.55, -0.79), (42.65, -0.06), (42.74, 0.37), (42.86, 0.57), (42.97, 0.59),
    (43.09, 0.18), (43.2, -0.4), (43.32, -0.99), (43.44, -1.13), (43.55, -0.79), (43.67, 0.18),
    (43.78, 1.25), (43.9, 1.98), (44.01, 2.26), (44.13, 1.93), (44.24, 1.15), (44.36, 0.28),
    (44.47, -0.21), (44.59, -0.36), (44.7, -0.21), (44.82, 0.42), (44.93, 1.25), (45.05, 2.03),
    (45.16, 2.61), (45.26, 2.83), (45.36, 2.71), (45.47, 2.32), (45.59, 1.93), (45.66, 1.86),
    (45.74, 2.13), (45.84, 2.61), (45.93, 2.95), (46.01, 3.05), (46.11, 2.61), (46.2, 1.74),
    (46.3, 0.86), (46.39, -0.11), (46.51, -0.79), (46.62, -1.28), (46.74, -1.47), (46.83, -1.43),
    (46.93, -1.38), (47.04, -1.57), (47.16, -1.86), (47.27, -2.11), (47.39, -1.77), (47.5, -0.79),
    (47.61, -0.31), (47.74, -0.11), (47.83, 0.01), (47.93, -0.4), (48.02, -1.28), (48.12, -2.25),
    (48.21, -2.74), (48.31, -2.89), (48.41, -2.25), (48.5, -1.04), (48.6, -0.31), (48.69, 0.08),
    (48.79, 0.28), (48.89, 0.18), (48.98, -0.31), (49.08, -1.04), (49.19, -1.77), (49.31, -2.35),
    (49.42, -2.69), (49.52, -2.55), (49.62, -2.01), (49.71, -1.52), (49.81, -1.28), (49.9, -1.04),
    (50.0, -0.84), (50.1, -0.65), (50.19, -0.4), (50.29, 0.18), (50.38, 1.15), (50.5, 2.13),
    (50.61, 2.61), (50.73, 2.95), (50.84, 3.04), (50.94, 2.86), (51.04, 2.47), (51.15, 2.03),
    (51.27, 1.64), (51.37, 1.3), (51.49, 1.1), (51.6, 1.01), (51.72, 1.06), (51.83, 1.18),
    (51.92, 1.01), (51.99, 0.67), (52.07, 0.28), (52.19, 0.13), (52.3, 0.28), (52.42, 0.42),
    (52.53, 0.57), (52.65, 0.67), (52.76, 0.86), (52.88, 1.25), (52.99, 1.74), (53.11, 2.13),
    (53.23, 2.39), (53.34, 2.22), (53.44, 1.64), (53.53, 0.96), (53.63, 0.18), (53.72, -0.55),
    (53.82, -1.04), (53.92, -1.18), (54.01, -0.94), (54.11, -0.6), (54.2, -0.31), (54.28, -0.18),
    (54.38, -0.45), (54.47, -0.99), (54.57, -1.67), (54.66, -2.25), (54.76, -2.69), (54.86, -2.89),
    (54.95, -2.93), (55.05, -2.74), (55.14, -2.35), (55.26, -1.91), (55.37, -1.47), (55.49, -1.09),
    (55.6, -0.84), (55.72, -0.7), (55.83, -0.72), (55.93, -0.6), (56.03, -0.36), (56.12, -0.06),
    (56.22, 0.42), (56.32, 1.15), (56.41, 1.64), (56.51, 1.83), (56.61, 1.93), (56.7, 1.91),
    (56.8, 1.69), (56.9, 1.4), (56.99, 0.91),
]

# tick labels as printed on the picture
x_ticks = [0, 10, 20, 30, 40, 50]
acc_ticks = [0.02, 0.01, 0.0, -0.01, -0.02]
acc_ticktext = ["0.02", "0.01", "0.00", "\u22120.01", "\u22120.02"]
vel_ticks = [0.001, 0.0005, 0.0, -0.0005, -0.001]
vel_ticktext = ["0.0010", "0.0005", "0.0000", "\u22120.0005", "\u22120.0010"]
disp_ticks = [0.0002, 0.0, -0.0002]
disp_ticktext = ["0.0002", "0.0000", "\u22120.0002"]

acc = np.array(acc_milli) * 1e-3
acc_t = np.arange(len(acc)) * acc_dt
vel_t, vel = zip(*vel_points)
vel = np.array(vel) * 1e-4
disp_t, disp = zip(*disp_points)
disp = np.array(disp) * 1e-4

FONT = "DejaVu Sans"
X_DOM = [0.0858, 0.9847]
panels = [
    # (y domain, y range, ticks, ticktext, label, label x)
    ([0.7275, 0.9689], [-0.0261, 0.0261], acc_ticks, acc_ticktext, "Acceleration (cm/s/s)", 0.0297),
    ([0.4035, 0.6464], [-0.001163, 0.001163], vel_ticks, vel_ticktext, "Velocity (cm/s)", 0.0147),
    ([0.0810, 0.3233], [-0.000357, 0.000357], disp_ticks, disp_ticktext, "Displacement (cm)", 0.0147),
]
time_label_y = [0.6808, 0.3583, 0.0358]

fig = go.Figure()
fig.add_trace(go.Scatter(x=acc_t, y=acc, mode="lines",
                         line=dict(color="black", width=6), xaxis="x", yaxis="y"))
fig.add_trace(go.Scatter(x=vel_t, y=vel, mode="lines",
                         line=dict(color="blue", width=6), xaxis="x2", yaxis="y2"))
fig.add_trace(go.Scatter(x=disp_t, y=disp, mode="lines",
                         line=dict(color="red", width=6), xaxis="x3", yaxis="y3"))

axis_style = dict(showgrid=True, gridcolor="#b0b0b0", gridwidth=3.3,
                  showline=True, mirror=True, linecolor="black", linewidth=3.3,
                  ticks="outside", ticklen=15, tickwidth=3.3, tickcolor="black",
                  tickfont=dict(family=FONT, size=41, color="black"),
                  zeroline=False)

layout = dict(width=3600, height=2400, margin=dict(l=0, r=0, t=0, b=0),
              paper_bgcolor="white", plot_bgcolor="white", showlegend=False,
              annotations=[])
for i, (ydom, yrng, yt, ytt, ylab, labx) in enumerate(panels):
    sfx = "" if i == 0 else str(i + 1)
    layout["xaxis" + sfx] = dict(axis_style, domain=X_DOM, anchor="y" + sfx,
                                 range=[0, 57.04], tickvals=x_ticks,
                                 ticklabelstandoff=-14)
    layout["yaxis" + sfx] = dict(axis_style, domain=ydom, anchor="x" + sfx,
                                 range=yrng, tickvals=yt, ticktext=ytt,
                                 ticklabelstandoff=3)
    layout["annotations"].append(dict(
        text="Time (s)", xref="paper", yref="paper", x=0.5346, y=time_label_y[i],
        xanchor="center", yanchor="middle", showarrow=False,
        font=dict(family=FONT, size=59, color="black")))
    layout["annotations"].append(dict(
        text=ylab, xref="paper", yref="paper", x=labx, y=(ydom[0] + ydom[1]) / 2,
        xanchor="center", yanchor="middle", textangle=-90, showarrow=False,
        font=dict(family=FONT, size=59, color="black")))

fig.update_layout(**layout)
fig.write_html("out.html")
